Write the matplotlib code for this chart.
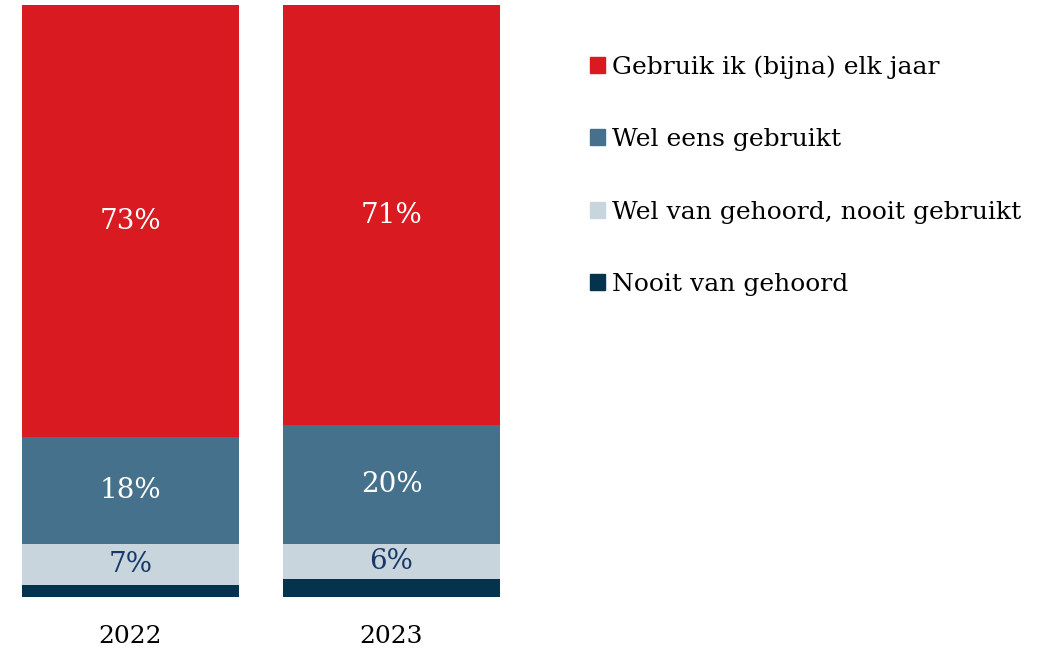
import matplotlib.pyplot as plt
from matplotlib.patches import Patch

plt.rcParams['font.family'] = ['DejaVu Serif']

years = ['2022', '2023']
categories = ['Nooit van gehoord', 'Wel van gehoord, nooit gebruikt',
              'Wel eens gebruikt', 'Gebruik ik (bijna) elk jaar']
nooit = [2, 3]
gehoord = [7, 6]
wel_eens = [18, 20]
elk_jaar = [73, 71]

colors = ['#04344D', '#C9D5DC', '#46718C', '#D91A21']
label_colors = [None, '#16396A', 'white', 'white']

fig = plt.figure(figsize=(10.48, 6.48), dpi=100)
ax = fig.add_axes([22 / 1048, 51 / 648, 478 / 1048, 592 / 648])

x = [0, 1]
w = 0.831
bottom = [0, 0]
series = [nooit, gehoord, wel_eens, elk_jaar]
for vals, col, lcol in zip(series, colors, label_colors):
    ax.bar(x, vals, width=w, bottom=bottom, color=col, edgecolor='none')
    for i, v in enumerate(vals):
        if lcol is not None:
            ax.text(x[i], bottom[i] + v / 2, f'{v}%', ha='center', va='center',
                    color=lcol, fontsize=20)
    bottom = [b + v for b, v in zip(bottom, vals)]

ax.set_xlim(-w / 2, 1 + w / 2)
ax.set_ylim(0, 100)
ax.set_xticks(x)
ax.set_xticklabels(years, fontsize=18)
ax.tick_params(axis='x', length=0, pad=20)
ax.set_yticks([])
for s in ax.spines.values():
    s.set_visible(False)

handles = [Patch(color=c) for c in colors[::-1]]
fig.legend(handles, categories[::-1], loc='upper left',
           bbox_to_anchor=(580 / 1048, 1 - 45 / 648), frameon=False,
           fontsize=18, handlelength=0.6, handleheight=0.6,
           handletextpad=0.3, labelspacing=1.98, borderaxespad=0)

fig.savefig('out.png', dpi=100)
